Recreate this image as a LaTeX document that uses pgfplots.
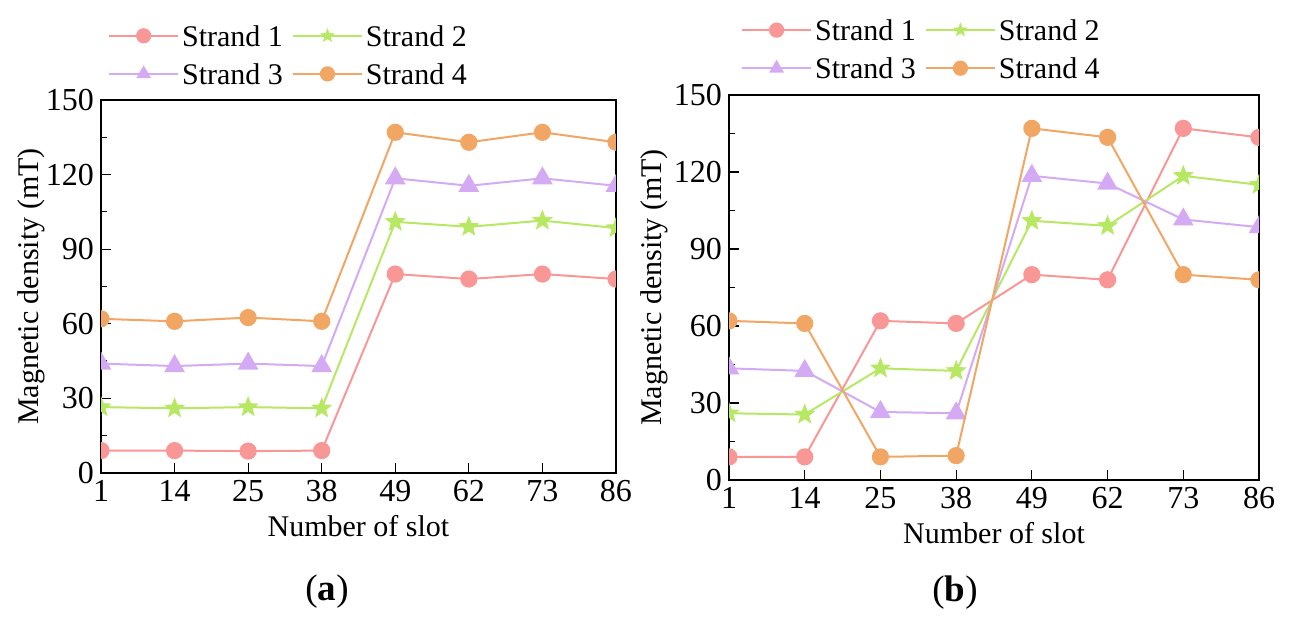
\documentclass[border=0pt]{standalone}
\usepackage{fontspec}
\setmainfont{Liberation Serif}
\usepackage{pgfplots}
\pgfplotsset{compat=1.18}
\definecolor{sA}{RGB}{249,150,150}
\definecolor{sB}{RGB}{182,232,100}
\definecolor{sC}{RGB}{212,170,245}
\definecolor{sD}{RGB}{242,166,100}
\newcommand\lf{\fontsize{15}{18}\selectfont}
\newcommand\tf{\fontsize{16}{19}\selectfont}
\pgfdeclareplotmark{fstar}{%
  \pgfpathmoveto{\pgfqpointpolar{90}{\pgfplotmarksize}}%
  \pgfpathlineto{\pgfqpointpolar{126}{0.42\pgfplotmarksize}}%
  \pgfpathlineto{\pgfqpointpolar{162}{\pgfplotmarksize}}%
  \pgfpathlineto{\pgfqpointpolar{198}{0.42\pgfplotmarksize}}%
  \pgfpathlineto{\pgfqpointpolar{234}{\pgfplotmarksize}}%
  \pgfpathlineto{\pgfqpointpolar{270}{0.42\pgfplotmarksize}}%
  \pgfpathlineto{\pgfqpointpolar{306}{\pgfplotmarksize}}%
  \pgfpathlineto{\pgfqpointpolar{342}{0.42\pgfplotmarksize}}%
  \pgfpathlineto{\pgfqpointpolar{18}{\pgfplotmarksize}}%
  \pgfpathlineto{\pgfqpointpolar{54}{0.42\pgfplotmarksize}}%
  \pgfpathclose\pgfusepathqfillstroke}
\pgfplotsset{
  panel/.style={
    scale only axis,
    xmin=0, xmax=7, ymin=0, ymax=150,
    xtick={0,...,7},
    xticklabels={1,14,25,38,49,62,73,86},
    ytick={0,30,60,90,120,150},
    minor y tick num=1,
    tick align=inside,
    xtick pos=bottom, ytick pos=left,
    major tick length=5pt, minor tick length=3pt,
    axis line style={line width=0.8pt},
    tick style={line width=0.6pt, black},
    /pgf/number format/assume math mode=true,
    ticklabel style={font=\tf},
    label style={font=\lf},
    xlabel={Number of slot},
    ylabel={Magnetic density (mT)},
    clip marker paths=true,
    legend columns=2,
    legend cell align=left,
    every axis legend/.style={draw=none, fill=none, font=\lf, inner sep=0pt,
      nodes={inner sep=1.5pt, font=\lf}, row sep=5.5pt,
      /tikz/every even column/.append style={column sep=3pt}},
    legend image code/.code={\draw[line width=1pt] (0pt,0pt) -- (34.5pt,0pt); \draw[only marks, mark size=3.3pt] plot coordinates {(17.25pt,0pt)};},
    every axis plot/.append style={line width=1pt},
  },
  s1/.style={color=sA, mark=*, mark size=3.8pt, mark options={solid, fill=sA, draw=sA}},
  s2/.style={color=sB, mark=fstar, mark size=5pt, mark options={solid, fill=sB, draw=sB, line width=0.4pt}},
  s3/.style={color=sC, mark=triangle*, mark size=5pt, mark options={solid, fill=sC, draw=sC}},
  s4/.style={color=sD, mark=*, mark size=3.8pt, mark options={solid, fill=sD, draw=sD}},
}
\begin{document}
\begin{tikzpicture}
\path[use as bounding box] (0pt,0pt) rectangle (644.5pt,312.5pt);
\begin{axis}[panel, at={(50.5pt,76pt)}, anchor=south west, width=257.5pt, height=186.5pt,
  legend style={at={(axis description cs:0.365,1.121)}, anchor=center},
  every axis y label/.style={at={(axis description cs:-0.136,0.5)}, rotate=90, anchor=center, font=\lf}]
\addplot[s1] coordinates {(0,9) (1,9) (2,8.8) (3,9) (4,80) (5,78) (6,80) (7,78)};
\addlegendentry{Strand 1}
\addplot[s2] coordinates {(0,26.5) (1,26) (2,26.5) (3,26) (4,101) (5,99) (6,101.5) (7,98.5)};
\addlegendentry{Strand 2}
\addplot[s3] coordinates {(0,44) (1,43) (2,44) (3,43) (4,118.5) (5,115.5) (6,118.5) (7,115.5)};
\addlegendentry{Strand 3}
\addplot[s4] coordinates {(0,62) (1,61) (2,62.5) (3,61) (4,137) (5,133) (6,137) (7,133)};
\addlegendentry{Strand 4}
\end{axis}
\begin{axis}[panel, at={(364.5pt,72.5pt)}, anchor=south west, width=265pt, height=192.5pt,
  legend style={at={(axis description cs:0.364,1.119)}, anchor=center},
  every axis y label/.style={at={(axis description cs:-0.1415,0.5)}, rotate=90, anchor=center, font=\lf}]
\addplot[s1] coordinates {(0,9) (1,9) (2,62) (3,61) (4,80) (5,78) (6,137) (7,133.5)};
\addlegendentry{Strand 1}
\addplot[s2] coordinates {(0,26) (1,25.5) (2,43.5) (3,42.5) (4,101) (5,99) (6,118.5) (7,115)};
\addlegendentry{Strand 2}
\addplot[s3] coordinates {(0,43.5) (1,42.5) (2,26.5) (3,26) (4,118.5) (5,115.5) (6,101.5) (7,98.5)};
\addlegendentry{Strand 3}
\addplot[s4] coordinates {(0,62) (1,61) (2,9) (3,9.5) (4,137) (5,133.5) (6,80) (7,78)};
\addlegendentry{Strand 4}
\end{axis}
\node[font=\fontsize{18.5}{21}\selectfont] at (163.5pt,16.5pt) {(\textbf{a})};
\node[font=\fontsize{18.5}{21}\selectfont] at (477.5pt,16pt) {(\textbf{b})};
\end{tikzpicture}
\end{document}
